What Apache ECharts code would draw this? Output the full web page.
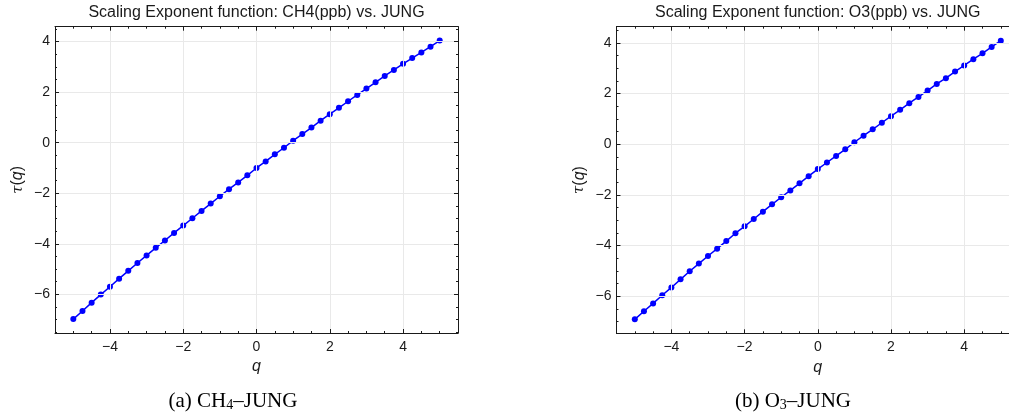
<!DOCTYPE html>
<html>
<head>
<meta charset="utf-8">
<script src="https://cdn.jsdelivr.net/npm/echarts@6/dist/echarts.min.js"></script>
<style>
  html, body { margin: 0; padding: 0; background: #fff; overflow: hidden; }
  #chart { width: 1009px; height: 415px; }
</style>
</head>
<body>
<div id="chart"></div>
<script>
// Moment orders q
const qValues = [-5, -4.75, -4.5, -4.25, -4, -3.75, -3.5, -3.25, -3, -2.75, -2.5, -2.25, -2, -1.75, -1.5, -1.25, -1, -0.75, -0.5, -0.25,
  0, 0.25, 0.5, 0.75, 1, 1.25, 1.5, 1.75, 2, 2.25, 2.5, 2.75, 3, 3.25, 3.5, 3.75, 4, 4.25, 4.5, 4.75, 5];

// Scaling exponent tau(q), CH4(ppb) vs. JUNG
const ch4Tau = [-6.98, -6.66, -6.33, -6.01, -5.70, -5.38, -5.07, -4.76, -4.46, -4.16, -3.87, -3.57, -3.28, -2.99, -2.70, -2.41, -2.12, -1.84, -1.57, -1.29,
  -1.00, -0.74, -0.46, -0.20, 0.08, 0.34, 0.60, 0.87, 1.13, 1.38, 1.64, 1.89, 2.14, 2.39, 2.64, 2.88, 3.12, 3.35, 3.57, 3.80, 4.04];

// Scaling exponent tau(q), O3(ppb) vs. JUNG
const o3Tau = [-6.91, -6.59, -6.28, -5.96, -5.65, -5.33, -5.01, -4.71, -4.41, -4.12, -3.82, -3.51, -3.24, -2.95, -2.66, -2.37, -2.09, -1.82, -1.54, -1.26,
  -0.98, -0.72, -0.46, -0.20, 0.08, 0.34, 0.59, 0.85, 1.11, 1.36, 1.62, 1.87, 2.12, 2.38, 2.61, 2.87, 3.11, 3.36, 3.59, 3.84, 4.09];

// Labelled ticks
const xTickLabels = [-4, -2, 0, 2, 4];
const yTickLabels = [-6, -4, -2, 0, 2, 4];

// Panel titles and captions
const panelTitles = ['Scaling Exponent function: CH4(ppb) vs. JUNG', 'Scaling Exponent function: O3(ppb) vs. JUNG'];
const captionParts = [['(a) CH', '4', '\u2013JUNG'], ['(b) O', '3', '\u2013JUNG']];

// Plot ranges (frame extents)
const xRange = [-5.5, 5.5];
const yRanges = [[-7.53, 4.59], [-7.46, 4.64]];

const FRAME = '#1a1a1a';
const GRIDLINE = '#e9e9e9';
const SANS = 'Liberation Sans, Arial, sans-serif';
const SERIF = 'Liberation Serif, Times New Roman, serif';

const fmtNum = v => (v < 0 ? '\u2212' + Math.abs(v) : String(v));

// The second panel runs past the right edge of the page, so bounds are not kept inside
const grids = [
  { left: 55, top: 26.7, width: 403, height: 306.3, outerBoundsMode: 'none', containLabel: false },
  { left: 616.5, top: 26.7, width: 402.6, height: 306.6, outerBoundsMode: 'none', containLabel: false }
];

// Framed axes: inward major and minor ticks on every side
function frameParts() {
  return {
    axisLine: { show: true, onZero: false, lineStyle: { color: FRAME, width: 1 } },
    axisTick: { show: true, inside: true, length: 4, lineStyle: { color: FRAME } },
    minorTick: { show: true, splitNumber: 4, length: 2, lineStyle: { color: FRAME } },
    z: 5
  };
}

function xAxisPair(gi) {
  const base = Object.assign({ type: 'value', gridIndex: gi, min: xRange[0], max: xRange[1] }, frameParts());
  return [
    Object.assign({}, base, {
      position: 'bottom',
      axisLabel: { customValues: xTickLabels, formatter: fmtNum, color: '#1a1a1a', fontFamily: SANS, fontSize: 14, margin: 7 },
      splitLine: { show: true, lineStyle: { color: GRIDLINE, width: 1 } },
      name: 'q', nameLocation: 'middle', nameGap: 25,
      nameTextStyle: { fontFamily: SANS, fontStyle: 'italic', fontSize: 16, color: '#1a1a1a' }
    }),
    Object.assign({}, base, {
      position: 'top',
      axisLabel: { show: false },
      splitLine: { show: false }
    })
  ];
}

function yAxisPair(gi) {
  const base = Object.assign({ type: 'value', gridIndex: gi, min: yRanges[gi][0], max: yRanges[gi][1] }, frameParts());
  return [
    Object.assign({}, base, {
      position: 'left',
      axisLabel: { customValues: yTickLabels, formatter: fmtNum, color: '#1a1a1a', fontFamily: SANS, fontSize: 14, margin: 5 },
      splitLine: { show: true, lineStyle: { color: GRIDLINE, width: 1 } },
      name: '{t|\u03c4}{p|(}{q|q}{p|)}', nameLocation: 'middle', nameGap: 29,
      nameTextStyle: {
        fontSize: 16, color: '#1a1a1a',
        rich: {
          t: { fontFamily: 'DejaVu Serif, serif', fontStyle: 'italic', fontSize: 15, color: '#1a1a1a' },
          p: { fontFamily: SANS, fontSize: 16, color: '#1a1a1a' },
          q: { fontFamily: SANS, fontStyle: 'italic', fontSize: 16, color: '#1a1a1a' }
        }
      }
    }),
    Object.assign({}, base, {
      position: 'right',
      axisLabel: { show: false },
      splitLine: { show: false }
    })
  ];
}

function seriesFor(gi, tau) {
  return {
    type: 'line',
    xAxisIndex: gi * 2, yAxisIndex: gi * 2,
    data: qValues.map((q, i) => [q, tau[i]]),
    symbol: 'circle', symbolSize: 6, showAllSymbol: true,
    lineStyle: { color: '#0000ff', width: 1.5 },
    itemStyle: { color: '#0000ff', borderWidth: 0 },
    emphasis: { disabled: true },
    animation: false, z: 3
  };
}

function titleText(x, text) {
  return {
    type: 'text', x: x, y: 12.5,
    style: { text: text, fontFamily: SANS, fontSize: 16, fill: '#1a1a1a', align: 'center', verticalAlign: 'middle' }
  };
}

function captionText(x, parts) {
  return {
    type: 'text', x: x, y: 401,
    style: {
      text: '{a|' + parts[0] + '}{s|' + parts[1] + '}{a|' + parts[2] + '}',
      align: 'center', verticalAlign: 'middle',
      rich: {
        a: { fontFamily: SERIF, fontSize: 21, lineHeight: 23, fill: '#000' },
        s: { fontFamily: SERIF, fontSize: 14, lineHeight: 12, verticalAlign: 'bottom', fill: '#000' }
      }
    }
  };
}

const chart = echarts.init(document.getElementById('chart'), null, { renderer: 'canvas' });
chart.setOption({
  backgroundColor: '#ffffff',
  animation: false,
  grid: grids,
  xAxis: [...xAxisPair(0), ...xAxisPair(1)],
  yAxis: [...yAxisPair(0), ...yAxisPair(1)],
  series: [seriesFor(0, ch4Tau), seriesFor(1, o3Tau)],
  graphic: [
    titleText(256.5, panelTitles[0]),
    titleText(817.7, panelTitles[1]),
    captionText(233, captionParts[0]),
    captionText(793, captionParts[1])
  ]
});
</script>
</body>
</html>
